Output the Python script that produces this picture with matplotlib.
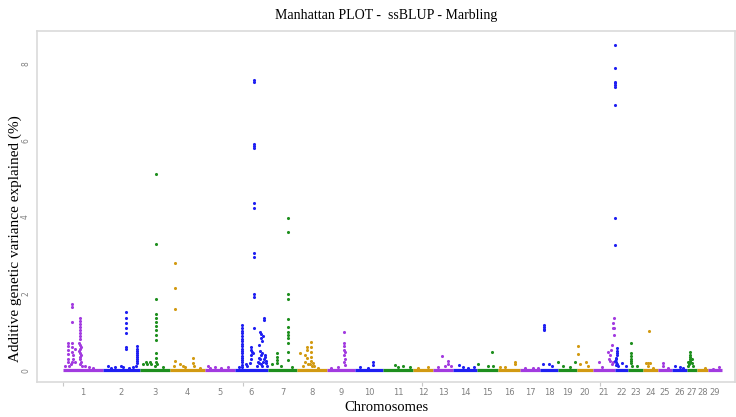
import numpy as np
import matplotlib
matplotlib.use('Agg')
import matplotlib.pyplot as plt

# chromosome bounds on the cumulative position axis (arbitrary units)
chroms = list(range(1, 30))
chr_start = [0, 40, 77, 107, 142, 172, 205, 234, 264, 292, 320, 350, 370, 390, 414,
             435, 457, 477, 495, 514, 530, 552, 565, 580, 595, 609, 624, 634, 645]
chr_end = [40, 77, 107, 142, 172, 205, 234, 264, 292, 320, 350, 370, 390, 414, 435,
           457, 477, 495, 514, 530, 552, 565, 580, 595, 609, 624, 634, 645, 659]

# SNPs standing above the baseline, one list per chromosome
# cumulative position
snp_pos = [
    [5, 5, 5, 5, 5, 5, 6, 9, 9, 9, 9, 9, 9, 10, 10, 9, 8, 12, 12,
     17, 17, 17, 17, 17, 17, 17, 17, 16, 17, 18, 17, 16, 17, 18, 17, 17, 18, 17, 19,
     22, 26, 30, 2],
    [45, 52, 58, 60, 63, 63, 63, 63, 63, 63, 63, 74, 74, 74, 74, 74, 74, 74, 74, 74, 73, 66, 70, 48],
    [80, 83, 84, 87, 88, 93, 93, 93, 93, 93, 93, 93, 93, 93, 93, 93, 93, 93, 94, 92, 100],
    [112, 112, 112, 112, 111, 117, 120, 122, 130, 130, 131, 137],
    [145, 147, 152, 158, 165],
    [179, 179, 179, 179, 179, 179, 179, 179, 179, 179, 179, 179, 179, 179, 179, 179, 179, 179,
     176, 183, 184,
     191, 191, 191, 191, 191, 191, 191, 191, 191, 191, 191, 191,
     188, 188, 189, 190, 188, 188, 187,
     197, 198, 198, 200, 199, 196, 197, 199, 198, 196, 197, 195, 196, 198, 199, 201, 200, 194,
     201, 201, 202, 202, 203, 203, 204],
    [209, 214, 214, 214, 214, 218, 225, 225, 225, 225, 225, 225, 225, 225, 225, 225, 225, 225, 229],
    [237, 242, 242, 244, 244, 244, 248, 248, 248, 248, 248, 247, 249, 245, 240, 250, 251, 255],
    [268, 275, 281, 281, 281, 281, 282, 281, 282, 281, 282],
    [297, 305, 310, 310],
    [332, 335, 340, 347],
    [355, 365],
    [375, 379, 382, 385, 385, 388],
    [396, 400, 405, 411],
    [415, 425, 429, 430],
    [437, 442, 452, 452],
    [462, 470, 475],
    [481, 481, 481, 481, 480, 486, 489],
    [495, 500, 507, 512],
    [515, 515, 517, 523, 525],
    [536, 539, 545, 547, 546, 547, 549, 548, 550, 550, 551, 551, 551, 550, 549],
    [552, 552, 552, 552, 552, 552, 552, 552, 552,
     554, 554, 554, 554, 553, 553, 552, 553, 554, 555, 553, 559, 563],
    [568, 568, 568, 568, 568, 568, 569, 574],
    [586, 583, 585, 587, 585, 590],
    [600, 600, 605],
    [612, 617, 620],
    [627, 627, 627, 627, 627, 627, 626, 625, 625, 629, 629, 630],
    [642],
    [650, 656],
]
# additive genetic variance explained (%)
snp_val = [
    [0.70, 0.62, 0.52, 0.42, 0.30, 0.20, 0.12, 1.72, 1.64, 1.25, 0.70, 0.60, 0.48, 0.40, 0.30, 0.22, 0.15, 0.55, 0.20,
     1.36, 1.28, 1.20, 1.12, 1.04, 0.96, 0.88, 0.80, 0.72, 0.66, 0.60, 0.54, 0.50, 0.45, 0.40, 0.34, 0.28, 0.22, 0.15, 0.10,
     0.10, 0.08, 0.06, 0.10],
    [0.12, 0.08, 0.10, 0.08, 1.51, 1.36, 1.22, 1.09, 0.96, 0.60, 0.56,
     0.62, 0.56, 0.50, 0.45, 0.40, 0.35, 0.30, 0.24, 0.18, 0.12, 0.06, 0.08, 0.06],
    [0.15, 0.22, 0.15, 0.22, 0.15, 5.13, 3.29, 1.85, 1.46, 1.36, 1.25, 1.15, 1.04, 0.91, 0.78, 0.44, 0.31, 0.22, 0.15, 0.10, 0.08],
    [2.79, 2.14, 1.59, 0.25, 0.12, 0.15, 0.12, 0.08, 0.31, 0.18, 0.10, 0.06],
    [0.10, 0.06, 0.08, 0.06, 0.08],
    [1.17, 1.10, 1.03, 0.96, 0.89, 0.82, 0.75, 0.68, 0.62, 0.56, 0.50, 0.44, 0.38, 0.32, 0.26, 0.20, 0.14, 0.08,
     0.08, 0.15, 0.10,
     7.57, 7.51, 5.90, 5.84, 5.79, 4.36, 4.23, 3.05, 2.95, 1.98, 1.90, 1.10,
     0.60, 0.52, 0.47, 0.45, 0.40, 0.30, 0.18,
     0.99, 0.94, 0.83, 0.88, 0.76, 0.65, 0.50, 0.45, 0.40, 0.32, 0.28, 0.22, 0.18, 0.15, 0.12, 0.30, 0.22, 0.10,
     1.36, 1.30, 0.40, 0.33, 0.25, 0.18, 0.10],
    [0.15, 0.44, 0.34, 0.26, 0.18, 0.10, 3.97, 3.60, 1.98, 1.85, 1.33, 1.12, 0.99, 0.91, 0.83, 0.70, 0.47, 0.26, 0.08],
    [0.44, 0.39, 0.21, 0.60, 0.52, 0.31, 0.73, 0.60, 0.47, 0.34, 0.23, 0.15, 0.12, 0.15, 0.10, 0.18, 0.10, 0.06],
    [0.06, 0.08, 0.99, 0.70, 0.63, 0.52, 0.47, 0.39, 0.29, 0.21, 0.13],
    [0.08, 0.06, 0.21, 0.13],
    [0.13, 0.08, 0.10, 0.07],
    [0.05, 0.08],
    [0.08, 0.37, 0.10, 0.23, 0.16, 0.10],
    [0.13, 0.08, 0.06, 0.08],
    [0.15, 0.12, 0.47, 0.10],
    [0.08, 0.07, 0.21, 0.15],
    [0.05, 0.06, 0.05],
    [1.17, 1.12, 1.07, 1.04, 0.15, 0.15, 0.10],
    [0.21, 0.10, 0.08, 0.20],
    [0.63, 0.42, 0.15, 0.21, 0.10],
    [0.21, 0.08, 0.47, 0.39, 0.30, 0.25, 0.65, 0.52, 1.22, 1.10, 1.37, 1.09, 0.91, 0.20, 0.15],
    [8.48, 7.88, 7.51, 7.49, 7.44, 7.38, 6.91, 3.97, 3.26,
     0.57, 0.50, 0.44, 0.39, 0.32, 0.28, 0.24, 0.20, 0.16, 0.12, 0.14, 0.18, 0.12],
    [0.70, 0.44, 0.36, 0.30, 0.24, 0.18, 0.12, 0.10],
    [1.02, 0.18, 0.18, 0.18, 0.12, 0.06],
    [0.18, 0.12, 0.06],
    [0.10, 0.07, 0.05],
    [0.47, 0.40, 0.35, 0.30, 0.25, 0.20, 0.15, 0.20, 0.12, 0.28, 0.18, 0.10],
    [0.05],
    [0.04, 0.07],
]

palette = ['#A23BE0', '#1F1FF2', '#1E8F1E', '#D29A12']  # purple, blue, green, gold (cycled)
tick_grey = '#808080'
serif = ['Liberation Serif', 'DejaVu Serif']

fig = plt.figure(figsize=(7.36, 4.17), dpi=100)
ax = fig.add_axes([37 / 736, 1 - 382 / 417, 698 / 736, 351 / 417])

for i, c in enumerate(chroms):
    col = palette[i % 4]
    # dense baseline of near-zero SNPs
    ax.hlines(0.01, chr_start[i], chr_end[i], color=col, lw=2.3, zorder=2)
    ax.scatter(snp_pos[i], snp_val[i], s=5, color=col, linewidths=0, zorder=3)

ax.set_xlim(-26, 672)
ax.set_ylim(-0.31, 8.85)

mids = [(s + e) / 2 for s, e in zip(chr_start, chr_end)]
ax.set_xticks(mids)
ax.set_xticklabels([str(c) for c in chroms])
ax.set_xticks([0, 180, 359, 537], minor=True)
ax.tick_params(axis='x', which='major', length=0, pad=4, labelsize=6, labelcolor=tick_grey)
ax.tick_params(axis='x', which='minor', length=3, color='#C8C8C8', width=0.8)

ax.set_yticks([0, 2, 4, 6, 8])
ax.tick_params(axis='y', length=0, pad=5, labelsize=5.5, labelcolor=tick_grey)
for lab in ax.get_yticklabels():
    lab.set_rotation(90)
    lab.set_va('center')

for sp in ax.spines.values():
    sp.set_color('#DADADA')
    sp.set_linewidth(1.2)

ax.set_title('Manhattan PLOT -  ssBLUP - Marbling', family=serif, fontsize=10, pad=9)
ax.set_xlabel('Chromosomes', family=serif, fontsize=10.5, labelpad=3)
fig.text(15 / 736, 1 - 239 / 417, 'Additive genetic variance explained (%)', family=serif,
         fontsize=11, rotation=90, ha='center', va='center')

fig.savefig('out.png', dpi=100)
